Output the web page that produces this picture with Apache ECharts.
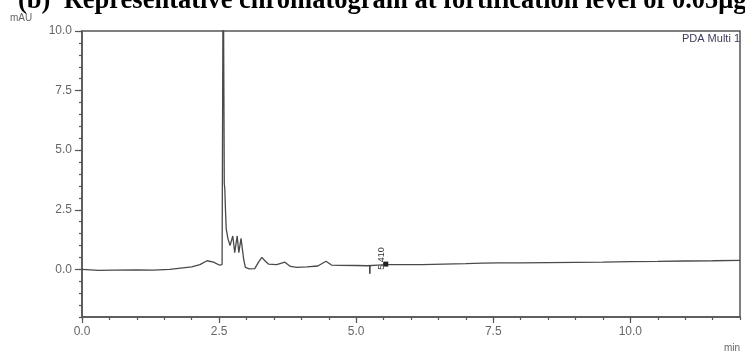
<!DOCTYPE html>
<html><head><meta charset="utf-8">
<script src="https://cdn.jsdelivr.net/npm/echarts@6/dist/echarts.min.js"></script>
<style>html,body{margin:0;padding:0;background:#fff;}#c{width:745px;height:356px;}</style>
</head><body><div id="c"></div>
<script>
// Retention time (min)
var times = [0.0, 0.3, 0.6, 1.0, 1.3, 1.6, 1.8, 2.0, 2.15, 2.28, 2.4, 2.5, 2.555, 2.575, 2.595, 2.605, 2.615, 2.63, 2.66, 2.7, 2.75, 2.785, 2.83, 2.86, 2.9, 2.95, 2.98, 3.05, 3.15, 3.22, 3.28, 3.34, 3.4, 3.55, 3.7, 3.8, 3.92, 4.1, 4.3, 4.45, 4.55, 4.7, 5.0, 5.2, 5.4, 5.55, 5.8, 6.2, 6.6, 7.0, 7.3, 7.6, 8.0, 8.5, 9.0, 9.5, 10.0, 10.5, 11.0, 11.5, 12.0];
// Absorbance (mAU)
var signal = [0.0, -0.04, -0.03, -0.02, -0.03, 0.0, 0.05, 0.1, 0.2, 0.36, 0.3, 0.18, 0.2, 14.0, 3.6, 3.35, 2.6, 1.7, 1.3, 1.0, 1.4, 0.7, 1.4, 0.7, 1.3, 0.4, 0.08, 0.02, 0.03, 0.3, 0.5, 0.35, 0.22, 0.2, 0.3, 0.12, 0.08, 0.1, 0.14, 0.34, 0.18, 0.17, 0.16, 0.15, 0.18, 0.2, 0.2, 0.2, 0.22, 0.24, 0.26, 0.27, 0.27, 0.28, 0.29, 0.3, 0.32, 0.33, 0.35, 0.36, 0.38];
var yMajor = [0, 2.5, 5, 7.5, 10];
var xMajor = [0, 2.5, 5, 7.5, 10];
var peakLabel = "5.410";
var peakTime = 5.54, peakValue = 0.22;
var startTime = 5.25, startValue = 0.15;
var titleText = "(b)  Representative chromatogram at fortification level of 0.05μg/g";

var data = times.map(function (t, i) { return [t, signal[i]]; });
var axisCol = '#555';
var labCol = '#666';
var chart = echarts.init(document.getElementById('c'));
chart.setOption({
  animation: false,
  grid: { left: 82, top: 31, right: 5, bottom: 39, show: true, borderColor: axisCol, borderWidth: 1.5, containLabel: false },
  graphic: [
    { type: 'text', left: 18, top: -12, style: { text: titleText, font: 'bold 26.5px "Liberation Serif", "Times New Roman", serif', fill: '#000' } },
    { type: 'text', left: 10, top: 13, style: { text: 'mAU', font: '10px "Liberation Sans", Arial, sans-serif', fill: labCol } },
    { type: 'text', right: 5, top: 33, style: { text: 'PDA Multi 1', font: '11px "Liberation Sans", Arial, sans-serif', fill: '#3d3d5c' } },
    { type: 'text', right: 5, top: 343, style: { text: 'min', font: '10px "Liberation Sans", Arial, sans-serif', fill: labCol } }
  ],
  xAxis: [
    { type: 'value', min: 0, max: 12, interval: 0.5, splitLine: { show: false },
      axisLine: { onZero: false, lineStyle: { color: axisCol, width: 1.5 } },
      axisTick: { customValues: xMajor, length: 6, lineStyle: { color: axisCol, width: 1.2 } },
      axisLabel: { customValues: xMajor, margin: 9, color: labCol, fontSize: 12, fontFamily: '"Liberation Sans", Arial, sans-serif', formatter: function (v) { return v.toFixed(1); } } },
    { type: 'value', min: 0, max: 12, interval: 0.5, position: 'bottom', splitLine: { show: false },
      axisLine: { show: false, onZero: false },
      axisTick: { length: 3, lineStyle: { color: axisCol, width: 1.2 } },
      axisLabel: { show: false } }
  ],
  yAxis: [
    { type: 'value', min: -2, max: 10, interval: 0.5, splitLine: { show: false },
      axisLine: { show: true, onZero: false, lineStyle: { color: axisCol, width: 1.5 } },
      axisTick: { show: true, customValues: yMajor, length: 7, lineStyle: { color: axisCol, width: 1.2 } },
      axisLabel: { customValues: yMajor, margin: 10, color: labCol, fontSize: 12, fontFamily: '"Liberation Sans", Arial, sans-serif', formatter: function (v) { return v.toFixed(1); } } },
    { type: 'value', min: -2, max: 10, interval: 0.5, position: 'left', splitLine: { show: false },
      axisLine: { show: false, onZero: false },
      axisTick: { show: true, length: 3, lineStyle: { color: axisCol, width: 1.2 } },
      axisLabel: { show: false } }
  ],
  series: [{
    type: 'line', data: data, showSymbol: false, clip: true,
    lineStyle: { color: '#4a4a4a', width: 1.3 },
    markPoint: {
      silent: true,
      data: [
        { coord: [peakTime, peakValue], symbol: 'rect', symbolSize: 5, itemStyle: { color: '#222' },
          label: { show: true, formatter: peakLabel, rotate: 90, position: 'top', distance: 3, color: '#333', fontSize: 9, fontFamily: '"Liberation Sans", Arial, sans-serif' } },
        { coord: [startTime, startValue], symbol: 'rect', symbolSize: [1.5, 8], symbolOffset: [0, 4], itemStyle: { color: '#333' }, label: { show: false } }
      ]
    }
  }]
});
</script></body></html>
